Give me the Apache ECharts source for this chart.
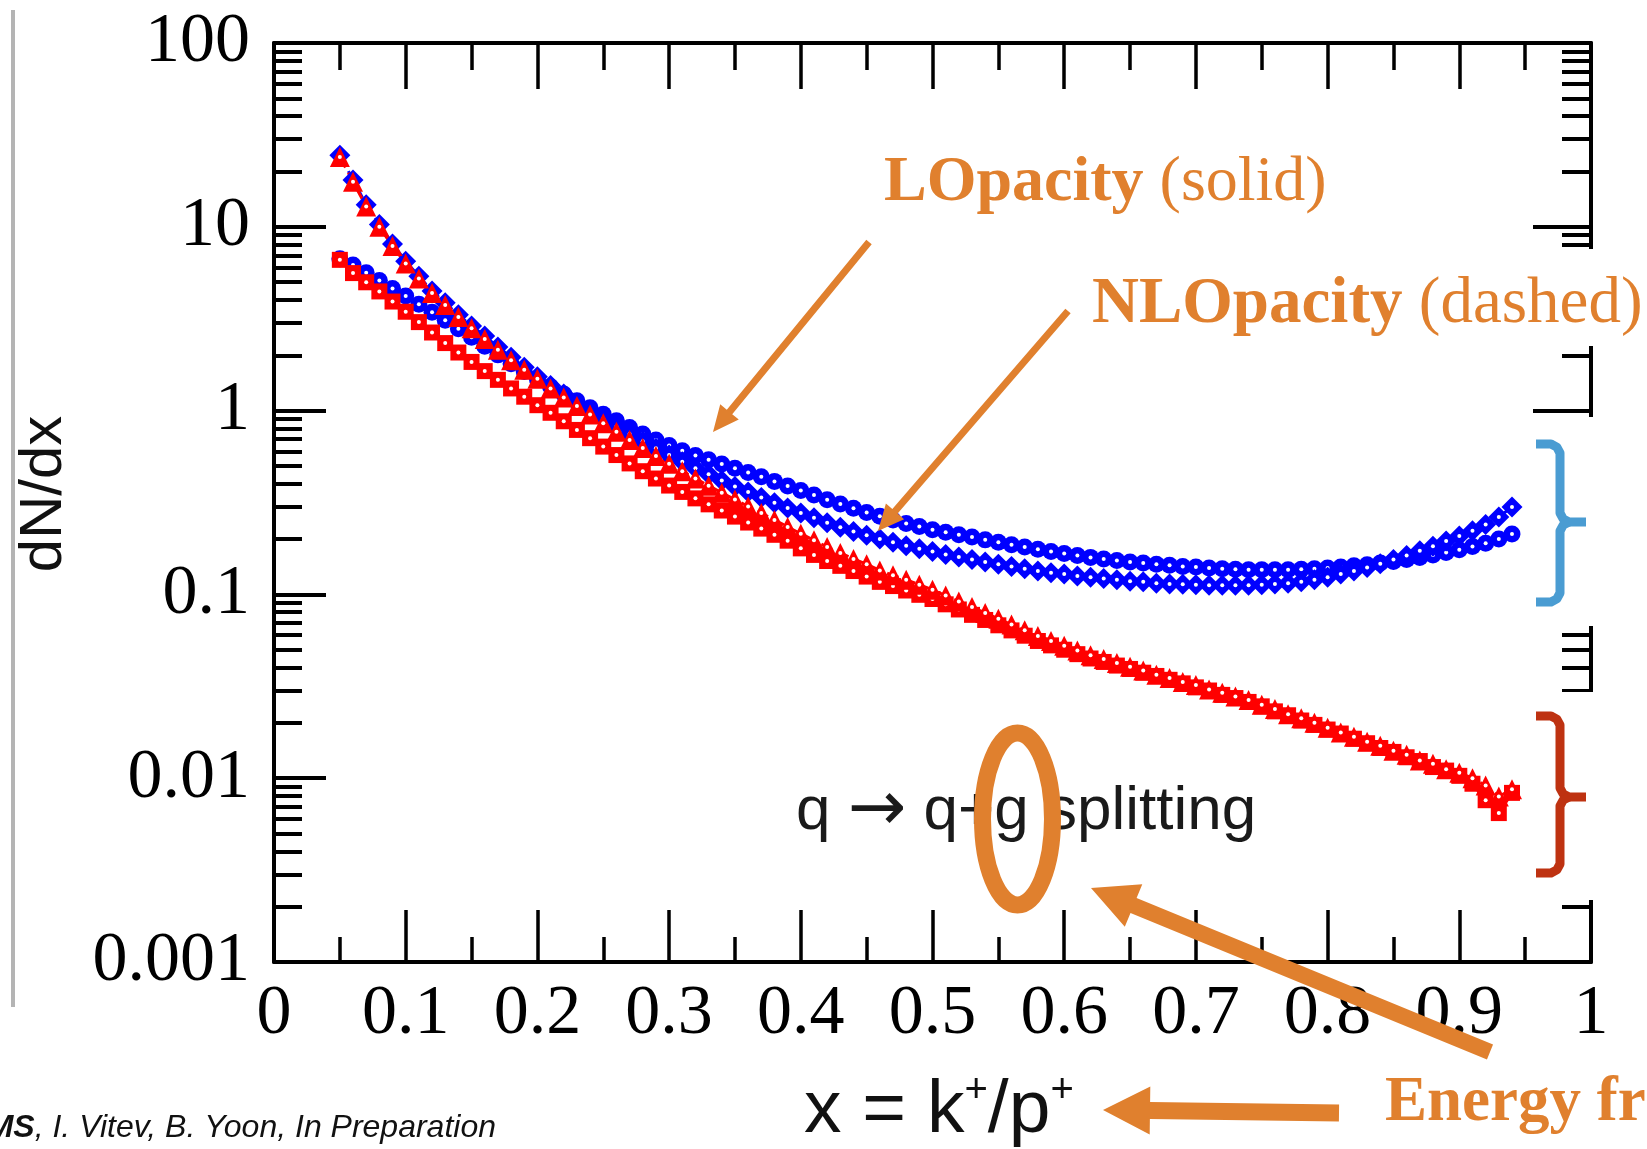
<!DOCTYPE html>
<html><head><meta charset="utf-8">
<script src="https://cdn.jsdelivr.net/npm/echarts@6/dist/echarts.min.js"></script>
<style>html,body{margin:0;padding:0;background:#fff;}#c{width:1647px;height:1149px;}</style>
</head><body><div id="c"></div>
<script>
// ---- data ----
const xValues = [0.05,0.06,0.07,0.08,0.09,0.10,0.11,0.12,0.13,0.14,0.15,0.16,0.17,0.18,0.19,0.20,0.21,0.22,0.23,0.24,0.25,0.26,0.27,0.28,0.29,0.30,0.31,0.32,0.33,0.34,0.35,0.36,0.37,0.38,0.39,0.40,0.41,0.42,0.43,0.44,0.45,0.46,0.47,0.48,0.49,0.50,0.51,0.52,0.53,0.54,0.55,0.56,0.57,0.58,0.59,0.60,0.61,0.62,0.63,0.64,0.65,0.66,0.67,0.68,0.69,0.70,0.71,0.72,0.73,0.74,0.75,0.76,0.77,0.78,0.79,0.80,0.81,0.82,0.83,0.84,0.85,0.86,0.87,0.88,0.89,0.90,0.91,0.92,0.93,0.94];

// blue, LO opacity (solid), circle markers
const blueLO = [6.70,6.19,5.62,5.10,4.62,4.20,3.79,3.43,3.10,2.79,2.51,2.24,2.01,1.80,1.63,1.48,1.35,1.23,1.13,1.035,0.955,0.881,0.809,0.746,0.692,0.646,0.605,0.570,0.540,0.512,0.485,0.460,0.436,0.412,0.389,0.367,0.347,0.327,0.310,0.294,0.279,0.266,0.254,0.243,0.234,0.225,0.218,0.211,0.205,0.198,0.192,0.186,0.181,0.176,0.171,0.167,0.163,0.159,0.156,0.153,0.150,0.148,0.146,0.144,0.142,0.141,0.139,0.138,0.137,0.136,0.136,0.136,0.136,0.137,0.138,0.139,0.141,0.143,0.145,0.148,0.151,0.155,0.159,0.164,0.169,0.175,0.182,0.190,0.200,0.213];

// blue, NLO opacity (dashed), diamond markers
const blueNLO = [24.5,18.0,13.2,10.3,8.07,6.50,5.38,4.47,3.86,3.32,2.89,2.55,2.22,1.95,1.72,1.53,1.37,1.23,1.10,0.998,0.904,0.820,0.746,0.681,0.624,0.573,0.527,0.486,0.450,0.417,0.387,0.361,0.337,0.315,0.295,0.277,0.261,0.245,0.232,0.220,0.210,0.200,0.192,0.184,0.177,0.171,0.165,0.160,0.155,0.150,0.146,0.142,0.138,0.134,0.131,0.129,0.126,0.124,0.122,0.120,0.118,0.117,0.115,0.114,0.1135,0.113,0.112,0.112,0.112,0.112,0.113,0.114,0.115,0.117,0.120,0.124,0.129,0.134,0.140,0.147,0.155,0.163,0.173,0.183,0.195,0.208,0.222,0.240,0.264,0.299];

// red, LO opacity (solid), square markers
const redLO = [6.61,5.60,4.99,4.45,3.92,3.45,3.03,2.66,2.33,2.07,1.84,1.64,1.47,1.32,1.19,1.07,0.973,0.875,0.785,0.708,0.637,0.573,0.516,0.468,0.427,0.391,0.361,0.333,0.309,0.286,0.265,0.246,0.228,0.211,0.196,0.178,0.164,0.152,0.143,0.134,0.125,0.117,0.111,0.105,0.0995,0.0944,0.0883,0.0828,0.0774,0.0726,0.0679,0.0637,0.0596,0.0558,0.0528,0.0500,0.0473,0.0448,0.0429,0.0410,0.0393,0.0375,0.0360,0.0343,0.0328,0.0312,0.0300,0.0284,0.0273,0.0260,0.0246,0.0231,0.0220,0.0206,0.0195,0.0184,0.0175,0.0164,0.0155,0.0146,0.0139,0.0130,0.0124,0.0115,0.0110,0.0103,0.00933,0.00759,0.00646,0.00832];

// red, NLO opacity (dashed), triangle markers
const redNLO = [24.0,17.6,12.9,10.0,7.85,6.32,5.24,4.37,3.75,3.23,2.81,2.45,2.14,1.88,1.67,1.49,1.32,1.18,1.06,0.951,0.853,0.767,0.692,0.625,0.566,0.514,0.468,0.427,0.390,0.357,0.328,0.301,0.277,0.254,0.233,0.214,0.197,0.181,0.168,0.156,0.146,0.135,0.127,0.120,0.113,0.106,0.0986,0.0916,0.0853,0.0793,0.0738,0.0685,0.0638,0.0593,0.0558,0.0526,0.0495,0.0467,0.0445,0.0424,0.0404,0.0385,0.0366,0.0351,0.0334,0.0321,0.0304,0.0292,0.0278,0.0266,0.0251,0.0238,0.0223,0.0212,0.0200,0.0188,0.0177,0.0168,0.0158,0.0150,0.0141,0.0134,0.0125,0.0120,0.0112,0.0107,0.0100,0.00912,0.00794,0.00871];

const xTickLabels = ['0','0.1','0.2','0.3','0.4','0.5','0.6','0.7','0.8','0.9','1'];
const yTickLabels = ['0.001','0.01','0.1','1','10','100'];
const yMinorTickValues = [0.002,0.003,0.004,0.005,0.006,0.007,0.008,0.009,0.02,0.03,0.04,0.05,0.06,0.07,0.08,0.09,0.2,0.3,0.4,0.5,0.6,0.7,0.8,0.9,2,3,4,5,6,7,8,9,20,30,40,50,60,70,80,90];

// ---- styling ----
const ORANGE = '#E0802E';
const SERIF = 'Liberation Serif';
const SANS = 'Liberation Sans';

function arrow(x1,y1,x2,y2,w,L,H){
  const dx=x2-x1, dy=y2-y1, len=Math.hypot(dx,dy), ux=dx/len, uy=dy/len, nx=-uy, ny=ux;
  const bx=x2-ux*L, by=y2-uy*L;
  return {type:'polygon', z:100, silent:true, shape:{points:[
    [x1+nx*w/2,y1+ny*w/2],[bx+nx*w/2,by+ny*w/2],[bx+nx*H,by+ny*H],[x2,y2],
    [bx-nx*H,by-ny*H],[bx-nx*w/2,by-ny*w/2],[x1-nx*w/2,y1-ny*w/2]]}, style:{fill:ORANGE}};
}
function brace(top, mid, bot, color){
  const xl=1536, xv=1560, xt=1586, r=9;
  const st = {stroke:color, lineWidth:9, fill:null, lineJoin:'round'};
  return [
    {type:'polyline', z:100, silent:true, shape:{points:[[xl,top],[xv-r,top],[xv-r*0.35,top+r*0.35],[xv,top+r],[xv,mid-r],[xv+r*0.35,mid-r*0.35],[xv+r,mid],[xt,mid]]}, style:st},
    {type:'polyline', z:100, silent:true, shape:{points:[[xl,bot],[xv-r,bot],[xv-r*0.35,bot-r*0.35],[xv,bot-r],[xv,mid+r],[xv+r*0.35,mid+r*0.35],[xv+r,mid]]}, style:st}
  ];
}

const chart = echarts.init(document.getElementById('c'), null, {renderer:'canvas'});

function mkSeries(name, values, color, symbol, size, dashed){
  const data = xValues.map((x,i)=>[x, values[i]]);
  return [{
    name, type:'line', xAxisIndex:0, yAxisIndex:0, silent:true, animation:false,
    data, symbol, symbolSize:size, showSymbol:true, showAllSymbol:true,
    itemStyle:{color:color},
    lineStyle:{color:color, width:3, type: dashed ? 'dashed' : 'solid'}
  },{
    name: name+' centre', type:'line', xAxisIndex:0, yAxisIndex:0, silent:true, animation:false,
    data, symbol:'circle', symbolSize:4, showSymbol:true, showAllSymbol:true,
    itemStyle:{color:'#ffffff'}, lineStyle:{width:0, opacity:0}
  }];
}

const axisLineStyle = {show:true, onZero:false, lineStyle:{color:'#000', width:4}};
const gridBox = {left:274, top:43, width:1317, height:919, containLabel:false, outerBoundsMode:'none'};

const option = {
  backgroundColor:'#fff',
  animation:false,
  grid:[Object.assign({}, gridBox), Object.assign({}, gridBox)],
  xAxis:[
    {gridIndex:0, type:'value', position:'bottom', min:0, max:1, interval:0.1,
     axisLine:axisLineStyle,
     axisTick:{show:true, inside:true, length:52, lineStyle:{color:'#000', width:3.5}},
     minorTick:{show:true, splitNumber:2, length:25, lineStyle:{color:'#000', width:3.5}},
     splitLine:{show:false}, minorSplitLine:{show:false},
     axisLabel:{show:true, margin:18, fontFamily:SERIF, fontSize:70, color:'#000',
       formatter:(v)=>xTickLabels[Math.round(v*10)]}},
    {gridIndex:0, type:'value', position:'top', min:0, max:1, interval:0.1,
     axisLine:axisLineStyle,
     axisTick:{show:true, inside:true, length:46, lineStyle:{color:'#000', width:3.5}},
     minorTick:{show:true, splitNumber:2, length:27, lineStyle:{color:'#000', width:3.5}},
     splitLine:{show:false}, minorSplitLine:{show:false}, axisLabel:{show:false}},
    {gridIndex:1, type:'value', min:0, max:1, show:false}
  ],
  yAxis:[
    {gridIndex:0, type:'log', logBase:10, position:'left', min:0.001, max:100,
     axisLine:axisLineStyle,
     axisTick:{show:true, inside:true, length:52, lineStyle:{color:'#000', width:4}},
     splitLine:{show:false},
     axisLabel:{show:true, margin:24, fontFamily:SERIF, fontSize:70, color:'#000',
       formatter:(v)=>yTickLabels[Math.round(Math.log10(v))+3]}},
    {gridIndex:0, type:'log', logBase:10, position:'right', min:0.001, max:100,
     axisLine:axisLineStyle,
     axisTick:{show:true, inside:true, length:58, lineStyle:{color:'#000', width:4}},
     splitLine:{show:false}, axisLabel:{show:false}},
    {gridIndex:1, type:'value', position:'left', min:-3, max:2,
     axisLine:{show:false},
     axisTick:{show:true, inside:true, length:28, lineStyle:{color:'#000', width:4},
       customValues: yMinorTickValues.map(v=>Math.log10(v))},
     splitLine:{show:false}, axisLabel:{show:false}},
    {gridIndex:1, type:'value', position:'right', min:-3, max:2,
     axisLine:{show:false},
     axisTick:{show:true, inside:true, length:29, lineStyle:{color:'#000', width:4},
       customValues: yMinorTickValues.map(v=>Math.log10(v))},
     splitLine:{show:false}, axisLabel:{show:false}}
  ],
  series:[
    ...mkSeries('blue LO', blueLO, '#0000FF', 'circle', 17, false),
    ...mkSeries('blue NLO', blueNLO, '#0000FF', 'diamond', 21, true),
    ...mkSeries('red LO', redLO, '#FF0000', 'rect', 16, false),
    ...mkSeries('red NLO', redNLO, '#FF0000', 'triangle', 20, true)
  ],
  graphic:{elements:[
    {type:'line', z:100, silent:true, shape:{x1:13,y1:10,x2:13,y2:1007}, style:{stroke:'#b4b4b4', lineWidth:4}},
    {type:'rect', z:90, silent:true, shape:{x:1527,y:249,width:82,height:97}, style:{fill:'#fff'}},
    {type:'rect', z:90, silent:true, shape:{x:1527,y:417,width:82,height:209}, style:{fill:'#fff'}},
    {type:'rect', z:90, silent:true, shape:{x:1527,y:692,width:82,height:208}, style:{fill:'#fff'}},
    {type:'text', z:100, silent:true, x:44, y:494, rotation:Math.PI/2,
     style:{text:'dN/dx', fontFamily:SANS, fontSize:60, fill:'#111', align:'center', verticalAlign:'middle', textAlign:'center', textVerticalAlign:'middle'}},
    {type:'text', z:100, silent:true, x:804, y:1071,
     style:{text:'{a|x = k}{s|+}{a|/p}{s|+}', align:'left', verticalAlign:'top', textAlign:'left', textVerticalAlign:'top',
       rich:{a:{fontFamily:SANS, fontSize:75, lineHeight:80, fill:'#111', color:'#111'},
             s:{fontFamily:SANS, fontSize:40, lineHeight:20, verticalAlign:'top', fill:'#111', color:'#111'}}}},
    {type:'text', z:100, silent:true, x:796, y:812,
     style:{text:'{a|q }{r|\u2192}{a| q+g splitting}', align:'left', verticalAlign:'middle', textAlign:'left', textVerticalAlign:'middle',
       rich:{a:{fontFamily:SANS, fontSize:62, lineHeight:70, fill:'#1a1a1a', color:'#1a1a1a'},
             r:{fontFamily:'DejaVu Sans', fontSize:70, lineHeight:70, fill:'#1a1a1a', color:'#1a1a1a'}}}},
    {type:'ellipse', z:101, silent:true, shape:{cx:1017.5, cy:819, rx:35, ry:86}, style:{stroke:ORANGE, lineWidth:17, fill:null}},
    {type:'text', z:100, silent:true, x:884, y:183,
     style:{text:'{b|LOpacity}{r| (solid)}', align:'left', verticalAlign:'middle', textAlign:'left', textVerticalAlign:'middle',
       rich:{b:{fontFamily:SERIF, fontWeight:'bold', fontSize:64, fill:ORANGE, color:ORANGE},
             r:{fontFamily:SERIF, fontWeight:'normal', fontSize:64, fill:ORANGE, color:ORANGE}}}},
    {type:'text', z:100, silent:true, x:1092, y:305,
     style:{text:'{b|NLOpacity}{r| (dashed)}', align:'left', verticalAlign:'middle', textAlign:'left', textVerticalAlign:'middle',
       rich:{b:{fontFamily:SERIF, fontWeight:'bold', fontSize:65, fill:ORANGE, color:ORANGE},
             r:{fontFamily:SERIF, fontWeight:'normal', fontSize:65, fill:ORANGE, color:ORANGE}}}},
    {type:'text', z:100, silent:true, x:1385, y:1104,
     style:{text:'Energy fraction', fontFamily:SERIF, fontWeight:'bold', fontSize:63, fill:ORANGE, align:'left', verticalAlign:'middle', textAlign:'left', textVerticalAlign:'middle'}},
    {type:'text', z:100, silent:true, x:496, y:1128,
     style:{text:'{b|MS}{i|, I. Vitev, B. Yoon, In Preparation}', align:'right', verticalAlign:'middle', textAlign:'right', textVerticalAlign:'middle',
       rich:{b:{fontFamily:SANS, fontStyle:'italic', fontWeight:'bold', fontSize:32, fill:'#111', color:'#111'},
             i:{fontFamily:SANS, fontStyle:'italic', fontSize:32, fill:'#111', color:'#111'}}}},
    arrow(869,242,713,432,7,26,12),
    arrow(1068,311,878,531,7,26,12),
    arrow(1490,1052,1091,888,16,46,23),
    arrow(1339,1113,1103,1110,17,47,24),
    ...brace(444,522,602,'#4A9CD2'),
    ...brace(716,797,873,'#BE3211')
  ]}
};
chart.setOption(option);
</script>
</body></html>
